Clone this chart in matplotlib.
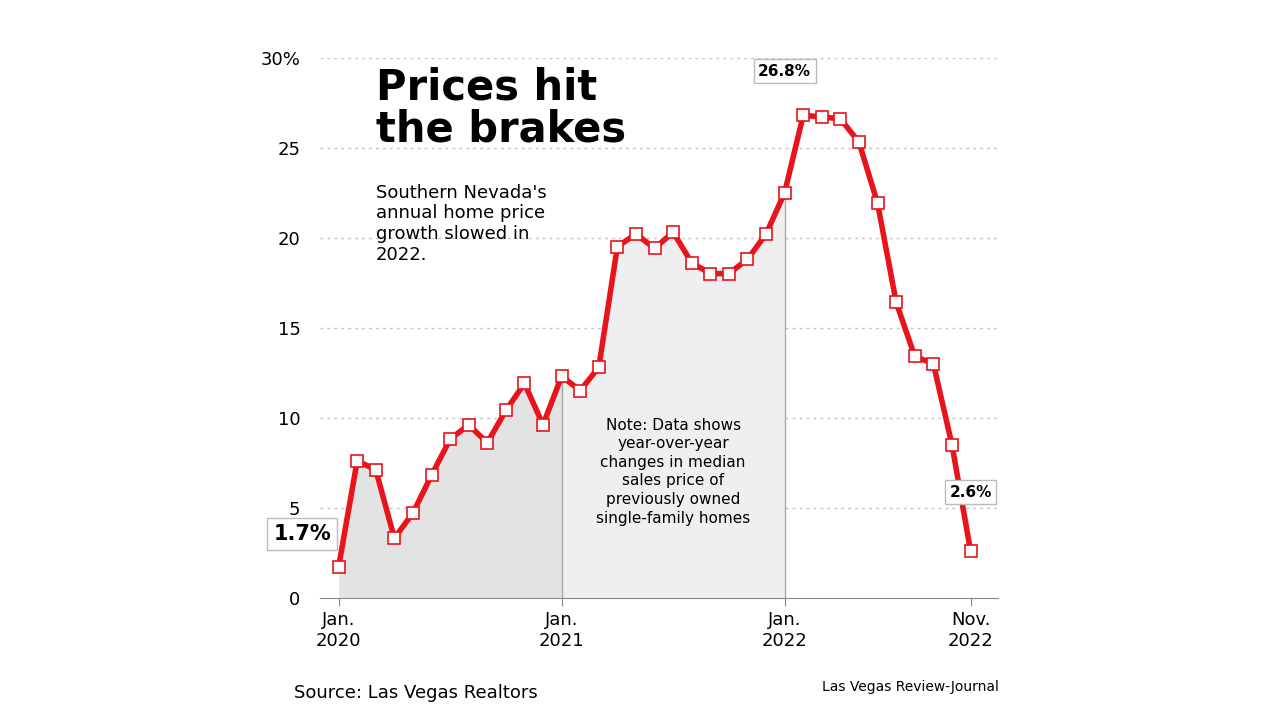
import matplotlib.pyplot as plt
import numpy as np

months = list(range(35))  # Jan 2020 .. Nov 2022
growth = [1.7, 7.6, 7.1, 3.3, 4.7, 6.8, 8.8, 9.6, 8.6, 10.4, 11.9, 9.6,
          12.3, 11.5, 12.8, 19.5, 20.2, 19.4, 20.3, 18.6, 18.0, 18.0, 18.8, 20.2,
          22.5, 26.8, 26.7, 26.6, 25.3, 21.9, 16.4, 13.4, 13.0, 8.5, 2.6]
yticks = [0, 5, 10, 15, 20, 25, 30]
ytick_labels = ["0", "5", "10", "15", "20", "25", "30%"]
xtick_pos = [0, 12, 24, 34]
xtick_labels = ["Jan.\n2020", "Jan.\n2021", "Jan.\n2022", "Nov.\n2022"]

fig, ax = plt.subplots(figsize=(12.8, 7.2), dpi=100)
fig.subplots_adjust(left=0.25, right=0.78, top=0.92, bottom=0.17)

x = np.array(months)
y = np.array(growth)
ax.fill_between(x[:13], 0, y[:13], color="#e3e3e3", lw=0)
ax.fill_between(x[12:25], 0, y[12:25], color="#efefef", lw=0)
ax.vlines([12, 24], 0, [y[12], y[24]], color="#aaaaaa", lw=1)

for t in yticks[1:]:
    ax.axhline(t, color="#c4c4c4", ls=(0, (2, 3)), lw=1, zorder=0)

ax.plot(x, y, color="#e8141b", lw=4, zorder=3)
ax.plot(x, y, ls="none", marker="s", ms=8, mfc="white", mec="#e8141b", mew=1.2, zorder=4)

ax.set_xlim(-1, 35.5)
ax.set_ylim(0, 30)
ax.set_yticks(yticks)
ax.set_yticklabels(ytick_labels, fontsize=13)
ax.set_xticks(xtick_pos)
ax.set_xticklabels(xtick_labels, fontsize=13)
ax.tick_params(axis="y", length=0, pad=14)
ax.tick_params(axis="x", length=6, color="#888888")
for s in ["top", "right", "left"]:
    ax.spines[s].set_visible(False)
ax.spines["bottom"].set_color("#888888")

box = dict(boxstyle="square,pad=0.3", fc="white", ec="#bbbbbb")
ax.text(-0.4, 3.2, "1.7%", fontsize=15, fontweight="bold", bbox=box, ha="right", zorder=5)
ax.text(24.0, 29.0, "26.8%", fontsize=11, fontweight="bold", bbox=box, ha="center")
ax.text(34.0, 5.6, "2.6%", fontsize=11, fontweight="bold", bbox=box, ha="center")

ax.text(2.0, 29.5, "Prices hit\nthe brakes", fontsize=30, fontweight="bold",
        va="top", linespacing=1.0)
ax.text(2.0, 23.0, "Southern Nevada's\nannual home price\ngrowth slowed in\n2022.",
        fontsize=13, va="top", linespacing=1.2)
ax.text(18.0, 10.0, "Note: Data shows\nyear-over-year\nchanges in median\nsales price of\npreviously owned\nsingle-family homes",
        fontsize=11, va="top", ha="center", linespacing=1.3)

fig.text(0.23, 0.03, "Source: Las Vegas Realtors", fontsize=13)
fig.text(0.78, 0.04, "Las Vegas Review-Journal", fontsize=10, ha="right")

fig.savefig("out.png")
